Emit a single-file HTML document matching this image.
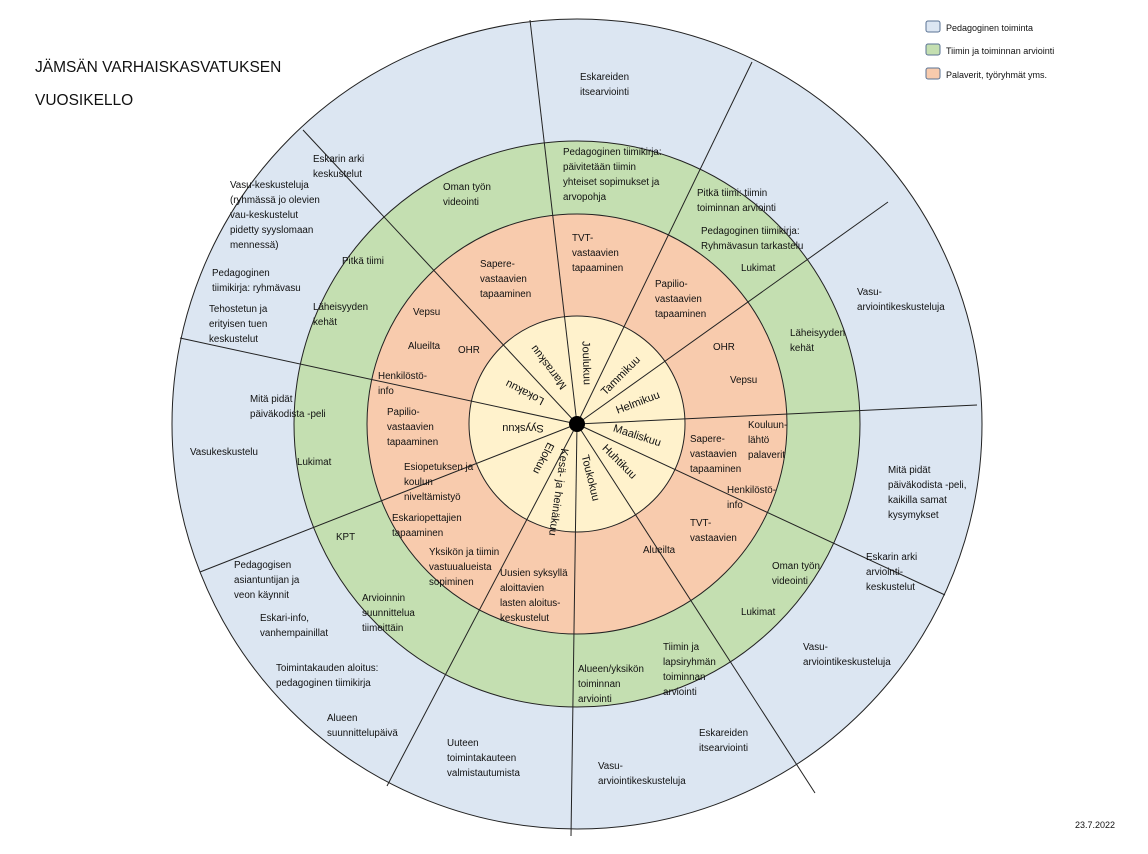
<!DOCTYPE html>
<html><head><meta charset="utf-8"><style>
html,body{margin:0;padding:0;background:#fff}
svg{display:block}
text{font-family:"Liberation Sans",sans-serif;font-size:9.8px;fill:#111}
.m{font-size:11px}
</style></head><body>
<svg width="1148" height="854" viewBox="0 0 1148 854">
<rect width="1148" height="854" fill="#fff"/>
<circle cx="577" cy="424" r="405" fill="#dce6f2" stroke="#222" stroke-width="1"/>
<circle cx="577" cy="424" r="283" fill="#c4dfb1" stroke="#222" stroke-width="1"/>
<circle cx="577" cy="424" r="210" fill="#f8cbad" stroke="#222" stroke-width="1"/>
<circle cx="577" cy="424" r="108" fill="#fff2cc" stroke="#222" stroke-width="1"/>
<g stroke="#222" stroke-width="1">
<line x1="577" y1="424" x2="530" y2="20"/>
<line x1="577" y1="424" x2="752" y2="62"/>
<line x1="577" y1="424" x2="888" y2="202"/>
<line x1="577" y1="424" x2="977" y2="405"/>
<line x1="577" y1="424" x2="945" y2="595"/>
<line x1="577" y1="424" x2="815" y2="793"/>
<line x1="577" y1="424" x2="571" y2="836"/>
<line x1="577" y1="424" x2="387" y2="786"/>
<line x1="577" y1="424" x2="200" y2="572"/>
<line x1="577" y1="424" x2="180" y2="338"/>
<line x1="577" y1="424" x2="303" y2="130"/>
</g>
<circle cx="577" cy="424" r="8" fill="#000"/>
<g class="mo">
<text class="m" text-anchor="middle" dominant-baseline="middle" transform="translate(586,363) rotate(88)">Joulukuu</text>
<text class="m" text-anchor="middle" dominant-baseline="middle" transform="translate(621,376) rotate(-45)">Tammikuu</text>
<text class="m" text-anchor="middle" dominant-baseline="middle" transform="translate(638,403) rotate(-21)">Helmikuu</text>
<text class="m" text-anchor="middle" dominant-baseline="middle" transform="translate(637,436) rotate(18)">Maaliskuu</text>
<text class="m" text-anchor="middle" dominant-baseline="middle" transform="translate(619,462) rotate(45)">Huhtikuu</text>
<text class="m" text-anchor="middle" dominant-baseline="middle" transform="translate(590,478) rotate(76)">Toukokuu</text>
<text class="m" text-anchor="middle" dominant-baseline="middle" transform="translate(558,492) rotate(98)">Kesä- ja heinäkuu</text>
<text class="m" text-anchor="middle" dominant-baseline="middle" transform="translate(543,458) rotate(117)">Elokuu</text>
<text class="m" text-anchor="middle" dominant-baseline="middle" transform="translate(523,428) rotate(180)">Syyskuu</text>
<text class="m" text-anchor="middle" dominant-baseline="middle" transform="translate(525,392) rotate(-153)">Lokakuu</text>
<text class="m" text-anchor="middle" dominant-baseline="middle" transform="translate(549,367) rotate(-127)">Marraskuu</text>
</g>
<text x="35" y="72" style="font-size:15.5px">JÄMSÄN VARHAISKASVATUKSEN</text>
<text x="35" y="105" style="font-size:15.5px">VUOSIKELLO</text>
<rect x="926" y="21" width="14" height="11" rx="2" fill="#dce6f2" stroke="#5a7394"/>
<rect x="926" y="44" width="14" height="11" rx="2" fill="#c4dfb1" stroke="#5a7394"/>
<rect x="926" y="68" width="14" height="11" rx="2" fill="#f8cbad" stroke="#5a7394"/>
<text x="946" y="31" style="font-size:9px">Pedagoginen toiminta</text>
<text x="946" y="54" style="font-size:9px">Tiimin ja toiminnan arviointi</text>
<text x="946" y="78" style="font-size:9px">Palaverit, työryhmät yms.</text>
<text x="1075" y="828" style="font-size:9px">23.7.2022</text>
<g>
<text x="580" y="80">Eskareiden<tspan x="580" dy="15">itsearviointi</tspan></text>
<text x="313" y="162">Eskarin arki<tspan x="313" dy="15">keskustelut</tspan></text>
<text x="230" y="188">Vasu-keskusteluja<tspan x="230" dy="15">(ryhmässä jo olevien</tspan><tspan x="230" dy="15">vau-keskustelut</tspan><tspan x="230" dy="15">pidetty syyslomaan</tspan><tspan x="230" dy="15">mennessä)</tspan></text>
<text x="212" y="276">Pedagoginen<tspan x="212" dy="15">tiimikirja: ryhmävasu</tspan></text>
<text x="209" y="312">Tehostetun ja<tspan x="209" dy="15">erityisen tuen</tspan><tspan x="209" dy="15">keskustelut</tspan></text>
<text x="250" y="402">Mitä pidät<tspan x="250" dy="15">päiväkodista -peli</tspan></text>
<text x="190" y="455">Vasukeskustelu</text>
<text x="234" y="568">Pedagogisen<tspan x="234" dy="15">asiantuntijan ja</tspan><tspan x="234" dy="15">veon käynnit</tspan></text>
<text x="260" y="621">Eskari-info,<tspan x="260" dy="15">vanhempainillat</tspan></text>
<text x="276" y="671">Toimintakauden aloitus:<tspan x="276" dy="15">pedagoginen tiimikirja</tspan></text>
<text x="327" y="721">Alueen<tspan x="327" dy="15">suunnittelupäivä</tspan></text>
<text x="447" y="746">Uuteen<tspan x="447" dy="15">toimintakauteen</tspan><tspan x="447" dy="15">valmistautumista</tspan></text>
<text x="598" y="769">Vasu-<tspan x="598" dy="15">arviointikeskusteluja</tspan></text>
<text x="699" y="736">Eskareiden<tspan x="699" dy="15">itsearviointi</tspan></text>
<text x="803" y="650">Vasu-<tspan x="803" dy="15">arviointikeskusteluja</tspan></text>
<text x="866" y="560">Eskarin arki<tspan x="866" dy="15">arviointi-</tspan><tspan x="866" dy="15">keskustelut</tspan></text>
<text x="888" y="473">Mitä pidät<tspan x="888" dy="15">päiväkodista -peli,</tspan><tspan x="888" dy="15">kaikilla samat</tspan><tspan x="888" dy="15">kysymykset</tspan></text>
<text x="857" y="295">Vasu-<tspan x="857" dy="15">arviointikeskusteluja</tspan></text>
<text x="563" y="155">Pedagoginen tiimikirja:<tspan x="563" dy="15">päivitetään tiimin</tspan><tspan x="563" dy="15">yhteiset sopimukset ja</tspan><tspan x="563" dy="15">arvopohja</tspan></text>
<text x="443" y="190">Oman työn<tspan x="443" dy="15">videointi</tspan></text>
<text x="697" y="196">Pitkä tiimi: tiimin<tspan x="697" dy="15">toiminnan arviointi</tspan></text>
<text x="701" y="234">Pedagoginen tiimikirja:<tspan x="701" dy="15">Ryhmävasun tarkastelu</tspan></text>
<text x="741" y="271">Lukimat</text>
<text x="342" y="264">Pitkä tiimi</text>
<text x="313" y="310">Läheisyyden<tspan x="313" dy="15">kehät</tspan></text>
<text x="790" y="336">Läheisyyden<tspan x="790" dy="15">kehät</tspan></text>
<text x="297" y="465">Lukimat</text>
<text x="336" y="540">KPT</text>
<text x="362" y="601">Arvioinnin<tspan x="362" dy="15">suunnittelua</tspan><tspan x="362" dy="15">tiimeittäin</tspan></text>
<text x="578" y="672">Alueen/yksikön<tspan x="578" dy="15">toiminnan</tspan><tspan x="578" dy="15">arviointi</tspan></text>
<text x="663" y="650">Tiimin ja<tspan x="663" dy="15">lapsiryhmän</tspan><tspan x="663" dy="15">toiminnan</tspan><tspan x="663" dy="15">arviointi</tspan></text>
<text x="741" y="615">Lukimat</text>
<text x="772" y="569">Oman työn<tspan x="772" dy="15">videointi</tspan></text>
<text x="572" y="241">TVT-<tspan x="572" dy="15">vastaavien</tspan><tspan x="572" dy="15">tapaaminen</tspan></text>
<text x="480" y="267">Sapere-<tspan x="480" dy="15">vastaavien</tspan><tspan x="480" dy="15">tapaaminen</tspan></text>
<text x="655" y="287">Papilio-<tspan x="655" dy="15">vastaavien</tspan><tspan x="655" dy="15">tapaaminen</tspan></text>
<text x="413" y="315">Vepsu</text>
<text x="408" y="349">Alueilta</text>
<text x="458" y="353">OHR</text>
<text x="713" y="350">OHR</text>
<text x="730" y="383">Vepsu</text>
<text x="378" y="379">Henkilöstö-<tspan x="378" dy="15">info</tspan></text>
<text x="387" y="415">Papilio-<tspan x="387" dy="15">vastaavien</tspan><tspan x="387" dy="15">tapaaminen</tspan></text>
<text x="748" y="428">Kouluun-<tspan x="748" dy="15">lähtö</tspan><tspan x="748" dy="15">palaverit</tspan></text>
<text x="690" y="442">Sapere-<tspan x="690" dy="15">vastaavien</tspan><tspan x="690" dy="15">tapaaminen</tspan></text>
<text x="404" y="470">Esiopetuksen ja<tspan x="404" dy="15">koulun</tspan><tspan x="404" dy="15">niveltämistyö</tspan></text>
<text x="727" y="493">Henkilöstö-<tspan x="727" dy="15">info</tspan></text>
<text x="392" y="521">Eskariopettajien<tspan x="392" dy="15">tapaaminen</tspan></text>
<text x="690" y="526">TVT-<tspan x="690" dy="15">vastaavien</tspan></text>
<text x="643" y="553">Alueilta</text>
<text x="429" y="555">Yksikön ja tiimin<tspan x="429" dy="15">vastuualueista</tspan><tspan x="429" dy="15">sopiminen</tspan></text>
<text x="500" y="576">Uusien syksyllä<tspan x="500" dy="15">aloittavien</tspan><tspan x="500" dy="15">lasten aloitus-</tspan><tspan x="500" dy="15">keskustelut</tspan></text>
</g>
</svg>
</body></html>
